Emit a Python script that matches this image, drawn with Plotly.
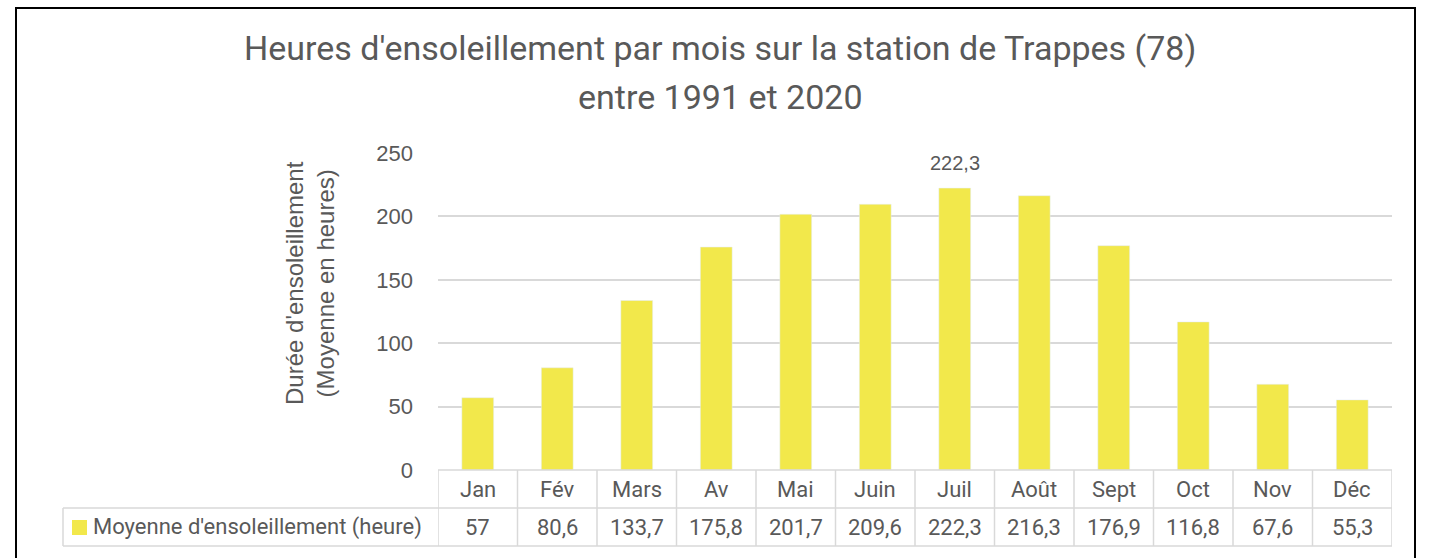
import plotly.graph_objects as go

# données : heures d'ensoleillement moyennes, Trappes (78), 1991-2020
mois = ['Jan', 'Fév', 'Mars', 'Av', 'Mai', 'Juin', 'Juil', 'Août', 'Sept', 'Oct', 'Nov', 'Déc']
heures = [57, 80.6, 133.7, 175.8, 201.7, 209.6, 222.3, 216.3, 176.9, 116.8, 67.6, 55.3]
libelles = ['57', '80,6', '133,7', '175,8', '201,7', '209,6', '222,3', '216,3', '176,9', '116,8', '67,6', '55,3']
serie = "Moyenne d'ensoleillement (heure)"
titre = ["Heures d'ensoleillement par mois sur la station de Trappes (78)", "entre 1991 et 2020"]

W, H = 1431, 558
JAUNE = '#f2e84b'
GRIS_TXT = '#595959'
GRIS_LIGNE = '#d9d9d9'
NARROW = 'Liberation Sans Narrow, Roboto, sans-serif'
SANS = 'Liberation Sans, Arial, sans-serif'


def px_x(x):
    return x / W


def px_y(y):
    return 1 - y / H


x_idx = list(range(len(mois)))
i_max = heures.index(max(heures))

fig = go.Figure()
fig.add_trace(go.Bar(
    x=x_idx, y=heures, marker_color=JAUNE, width=0.4,
    showlegend=False, hoverinfo='skip'
))

row_top, row_mid, row_bot = 470, 508, 546
shapes = []
# cadre extérieur
shapes.append(dict(type='rect', xref='paper', yref='paper',
                   x0=px_x(16), x1=px_x(1415), y0=px_y(600), y1=px_y(8),
                   line=dict(color='black', width=2)))
# lignes horizontales du tableau
shapes.append(dict(type='line', xref='x', yref='paper', x0=-0.5, x1=11.5,
                   y0=px_y(row_top), y1=px_y(row_top), line=dict(color=GRIS_LIGNE, width=1.5)))
for yy in (row_mid, row_bot):
    shapes.append(dict(type='line', xref='paper', yref='paper', x0=px_x(63), x1=px_x(1392),
                       y0=px_y(yy), y1=px_y(yy), line=dict(color=GRIS_LIGNE, width=1.5)))
# lignes verticales
for i in range(13):
    shapes.append(dict(type='line', xref='x', yref='paper', x0=i - 0.5, x1=i - 0.5,
                       y0=px_y(row_bot), y1=px_y(row_top), line=dict(color=GRIS_LIGNE, width=1.5)))
shapes.append(dict(type='line', xref='paper', yref='paper', x0=px_x(63), x1=px_x(63),
                   y0=px_y(row_bot), y1=px_y(row_mid), line=dict(color=GRIS_LIGNE, width=1.5)))
# carré de légende
shapes.append(dict(type='rect', xref='paper', yref='paper', x0=px_x(72), x1=px_x(87),
                   y0=px_y(535), y1=px_y(520), fillcolor=JAUNE, line=dict(width=0)))

annotations = []
# étiquette de la valeur maximale
annotations.append(dict(x=i_max, y=heures[i_max], xref='x', yref='y', text=libelles[i_max],
                        showarrow=False, yanchor='bottom', yshift=12,
                        font=dict(family=SANS, size=20, color=GRIS_TXT)))
# tableau de données
for i, (m, lab) in enumerate(zip(mois, libelles)):
    annotations.append(dict(x=i, y=px_y((row_top + row_mid) / 2), xref='x', yref='paper',
                            text=m, showarrow=False, yanchor='middle',
                            font=dict(family=NARROW, size=22, color=GRIS_TXT)))
    annotations.append(dict(x=i, y=px_y((row_mid + row_bot) / 2), xref='x', yref='paper',
                            text=lab, showarrow=False, yanchor='middle',
                            font=dict(family=NARROW, size=22, color=GRIS_TXT)))
annotations.append(dict(x=px_x(91), y=px_y((row_mid + row_bot) / 2), xref='paper', yref='paper',
                        text=serie, showarrow=False, xanchor='left', yanchor='middle',
                        font=dict(family=NARROW, size=22, color=GRIS_TXT)))
# titre (deux lignes)
for ligne, yy in zip(titre, (48, 97)):
    annotations.append(dict(x=px_x(720), y=px_y(yy), xref='paper', yref='paper',
                            text=ligne, showarrow=False, yanchor='middle',
                            font=dict(family=NARROW, size=34, color=GRIS_TXT)))
# titre de l'axe y
annotations.append(dict(x=px_x(310), y=px_y(283), xref='paper', yref='paper',
                        text="Durée d'ensoleillement<br>(Moyenne en heures)", textangle=-90,
                        showarrow=False, xanchor='center', yanchor='middle',
                        font=dict(family=SANS, size=24, color=GRIS_TXT)))

fig.update_layout(
    width=W, height=H,
    margin=dict(l=0, r=0, t=0, b=0, autoexpand=False),
    paper_bgcolor='white', plot_bgcolor='white',
    shapes=shapes, annotations=annotations,
    xaxis=dict(domain=[px_x(438), px_x(1392)], range=[-0.5, 11.5], automargin=False,
               showticklabels=False, showgrid=False, zeroline=False, fixedrange=True),
    yaxis=dict(domain=[px_y(470), px_y(153)], range=[0, 250], dtick=50, automargin=False,
               showgrid=True, gridcolor=GRIS_LIGNE, gridwidth=1.5, zeroline=False,
               ticks='', ticklabelstandoff=24,
               tickfont=dict(family=SANS, size=22, color=GRIS_TXT)),
    bargap=0.6,
)

# pas de marge de page autour du graphique
fig.write_html("out.html", config={'displayModeBar': False}, post_script=(
    "document.body.style.margin='0';"
    "document.documentElement.style.overflow='hidden';"
))
